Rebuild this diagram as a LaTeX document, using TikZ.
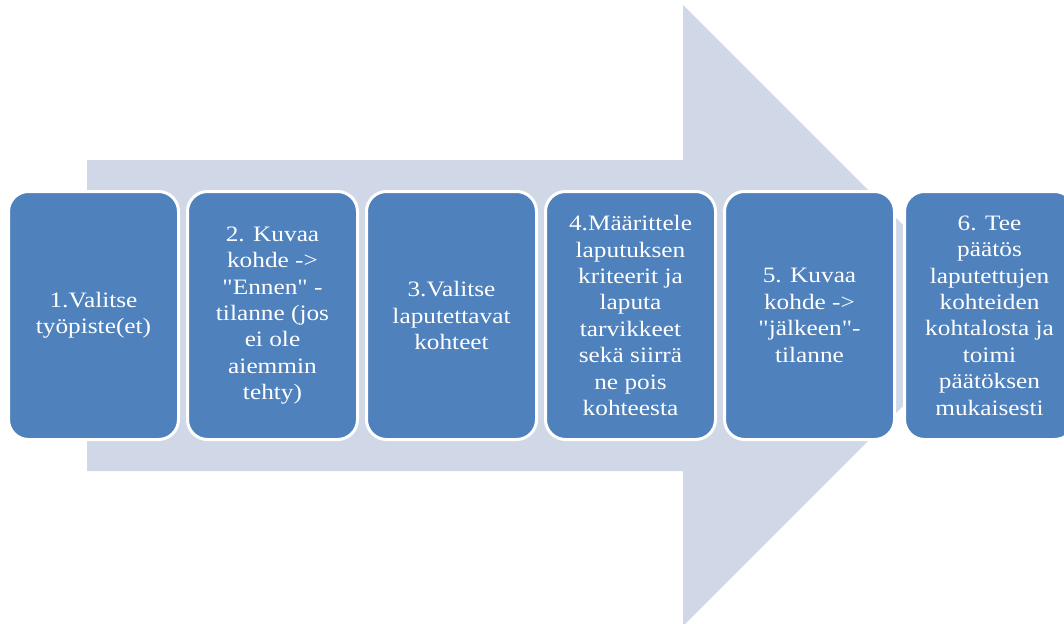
\documentclass[tikz,border=0pt]{standalone}
\usepackage{fontspec}
\setmainfont{Liberation Serif}[FakeStretch=1.15,Ligatures=TeXOff]
\usepackage{tikz}
\usetikzlibrary{positioning}

\definecolor{arrowgray}{HTML}{D0D8E8}
\definecolor{stepblue}{HTML}{4F81BD}

\begin{document}
\begin{tikzpicture}[
x=1pt,y=-1pt,
node distance=6pt,
stepbox/.style={draw=white,line width=3pt,fill=stepblue,rounded corners=20pt,
minimum width=170pt,minimum height=248pt,align=center,text=white,
font=\fontsize{22}{26.4}\selectfont,inner sep=2pt}
]
\useasboundingbox (0,0) rectangle (1064,623);
% big arrow behind the steps
\fill[arrowgray] (87,160) -- (683,160) -- (683,5) -- (993.5,315.5) -- (683,626)
  -- (683,471) -- (87,471) -- cycle;

\node[stepbox] (s1) at (93.5,315.5) {1.Valitse\\työpiste(et)};
\node[stepbox,right=of s1] (s2) {2. Kuvaa\\kohde ->\\"Ennen" -\\tilanne (jos\\ei ole\\aiemmin\\tehty)};
\node[stepbox,right=of s2] (s3) {3.Valitse\\laputettavat\\kohteet};
\node[stepbox,right=of s3] (s4) {4.Määrittele\\laputuksen\\kriteerit ja\\laputa\\tarvikkeet\\sekä siirrä\\ne pois\\kohteesta};
\node[stepbox,right=of s4] (s5) {5. Kuvaa\\kohde ->\\"jälkeen"-\\tilanne};
\node[stepbox,right=of s5,xshift=1pt] (s6) {6. Tee\\päätös\\laputettujen\\kohteiden\\kohtalosta ja\\toimi\\päätöksen\\mukaisesti};
\end{tikzpicture}
\end{document}
